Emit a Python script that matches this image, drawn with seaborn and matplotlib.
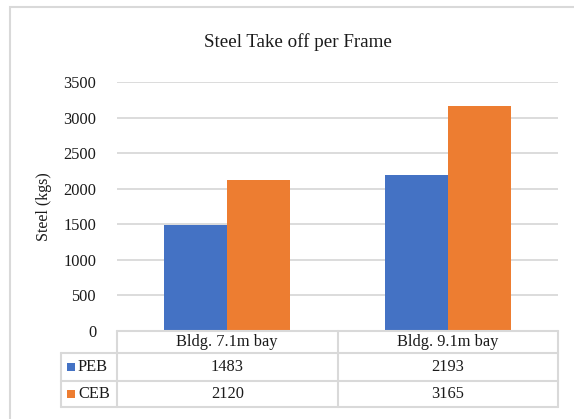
import matplotlib
matplotlib.use("Agg")
import matplotlib.pyplot as plt
import matplotlib.transforms as mtransforms
from matplotlib.patches import Rectangle
import seaborn as sns
import pandas as pd

categories = ["Bldg. 7.1m bay", "Bldg. 9.1m bay"]
series = ["PEB", "CEB"]
peb_values = [1483, 2193]
ceb_values = [2120, 3165]
yticks = [0, 500, 1000, 1500, 2000, 2500, 3000, 3500]
title = "Steel Take off per Frame"
ylabel = "Steel (kgs)"
colors = ["#4472C4", "#ED7D31"]

sns.set_theme(style="white")
plt.rcParams["font.family"] = ["Liberation Serif", "DejaVu Serif"]

W, H = 574, 419
fig = plt.figure(figsize=(W / 100, H / 100), dpi=100)
fig.patch.set_facecolor("white")

# axes placement in pixels
L, R, T, B = 117, 558, 82, 331
ax = fig.add_axes([L / W, 1 - B / H, (R - L) / W, (B - T) / H])

df = pd.DataFrame({
    "category": categories * 2,
    "series": [series[0]] * len(categories) + [series[1]] * len(categories),
    "value": peb_values + ceb_values,
})
sns.barplot(data=df, x="category", y="value", hue="series", order=categories,
            hue_order=series, palette=colors, width=0.57, saturation=1,
            legend=False, ax=ax, zorder=3, edgecolor="none", linewidth=0)

ax.set_xlim(-0.5, len(categories) - 0.5)
ax.set_ylim(0, 3500)
ax.set_yticks(yticks)
ax.set_yticklabels([str(v) for v in yticks], fontsize=11.8, color="#1a1a1a")
ax.tick_params(axis="y", length=0, pad=15)
ax.set_xticks([])
ax.set_xlabel("")
ax.set_ylabel(ylabel, fontsize=11.5, color="#1a1a1a", labelpad=8)
for s in ax.spines.values():
    s.set_visible(False)
for v in yticks[1:]:
    ax.axhline(v, color="#d9d9d9", lw=1.3, zorder=1)

fig.text(298 / W, 1 - 42 / H, title, ha="center", va="center",
         fontsize=13.7, color="#1a1a1a")

# outer chart border (top + left visible)
fig.patches.append(Rectangle((10 / W, -0.1), 1.2, 1.1 - 7 / H, transform=fig.transFigure,
                             fill=False, edgecolor="#d9d9d9", lw=1.5, figure=fig))

# data table below the axes
trans = mtransforms.blended_transform_factory(ax.transData, ax.transAxes)
axh = B - T
def ay(py):
    return (B - py) / axh

row_edges = [331, 353, 381, 407]
line_kw = dict(color="#d9d9d9", lw=1.5, clip_on=False, transform=trans, zorder=5)
x0, x1 = -0.5, len(categories) - 0.5
leg_left = -0.5 - (L - 61) / ((R - L) / len(categories))
# horizontal lines
ax.plot([x0, x1], [ay(row_edges[0])] * 2, **line_kw)
for py in row_edges[1:]:
    ax.plot([leg_left, x1], [ay(py)] * 2, **line_kw)
# vertical lines
for i in range(len(categories) + 1):
    ax.plot([i - 0.5, i - 0.5], [ay(row_edges[0]), ay(row_edges[-1])], **line_kw)
ax.plot([leg_left, leg_left], [ay(row_edges[1]), ay(row_edges[-1])], **line_kw)

txt_kw = dict(transform=trans, ha="center", va="center", fontsize=11.8,
              color="#1a1a1a", clip_on=False)
hy = ay((row_edges[0] + row_edges[1]) / 2)
for i, c in enumerate(categories):
    ax.text(i, hy, c, **txt_kw)
vals = [peb_values, ceb_values]
for r, (name, col, vv) in enumerate(zip(series, colors, vals)):
    cy = ay((row_edges[r + 1] + row_edges[r + 2]) / 2)
    for i, v in enumerate(vv):
        ax.text(i, cy, str(v), **txt_kw)
    # legend key
    fig.patches.append(Rectangle((67 / W, 1 - ((row_edges[r + 1] + row_edges[r + 2]) / 2 + 4) / H),
                                 8 / W, 8 / H, transform=fig.transFigure,
                                 facecolor=col, edgecolor="none", figure=fig))
    fig.text(78 / W, 1 - ((row_edges[r + 1] + row_edges[r + 2]) / 2) / H, name,
             ha="left", va="center", fontsize=11.8, color="#1a1a1a")

fig.savefig("out.png", dpi=100)
